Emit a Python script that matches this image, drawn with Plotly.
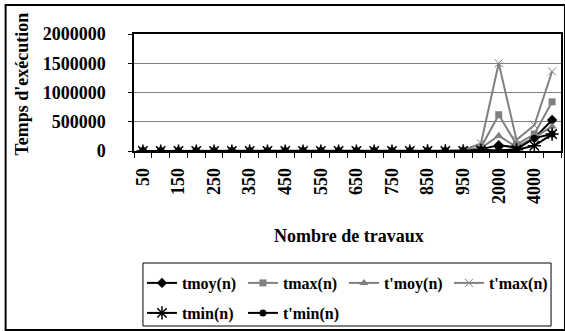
import plotly.graph_objects as go

# ---- data ----
n_labels = ["50", "100", "150", "200", "250", "300", "350", "400", "450", "500",
            "550", "600", "650", "700", "750", "800", "850", "900", "950", "1000",
            "2000", "3000", "4000", "5000"]
shown_labels = ["50", "", "150", "", "250", "", "350", "", "450", "",
                "550", "", "650", "", "750", "", "850", "", "950", "",
                "2000", "", "4000", ""]
tmoy = [5, 10, 20, 30, 50, 70, 100, 130, 170, 220, 280, 350, 430, 520, 620,
        750, 900, 1100, 5000, 30000, 100000, 60000, 220000, 530000]
tmax = [10, 20, 40, 60, 100, 140, 200, 260, 340, 440, 560, 700, 860, 1040, 1240,
        1500, 1800, 2200, 10000, 60000, 620000, 110000, 290000, 840000]
tpmoy = [6, 12, 25, 40, 60, 90, 120, 160, 210, 270, 340, 420, 520, 630, 750,
         900, 1100, 1300, 8000, 50000, 260000, 70000, 230000, 420000]
tpmax = [12, 25, 50, 80, 120, 170, 240, 320, 420, 540, 680, 850, 1050, 1270, 1520,
         1800, 2200, 2600, 15000, 130000, 1500000, 190000, 440000, 1360000]
tmin = [2, 5, 10, 15, 25, 35, 50, 65, 85, 110, 140, 175, 215, 260, 310,
        375, 450, 550, 2000, 10000, 5000, 20000, 90000, 290000]
tpmin = [3, 6, 12, 20, 30, 45, 60, 80, 105, 135, 170, 210, 260, 315, 375,
         450, 550, 650, 3000, 20000, 10000, 30000, 220000, 290000]

W, H = 565, 331
ML, MR, MT, MB = 134, 2, 34, 180
PW, PH = W - ML - MR, H - MT - MB


def px(x):
    return (x - ML) / PW


def py(y):
    return (H - MB - y) / PH


FONT = "Liberation Serif"
GRAY = "#808080"

series = [
    # name, values, color, symbol, size, marker line, legend, legendwidth
    ("tmoy(n)", tmoy, "black", "diamond", 8, 0, "legend", 56),
    ("tmax(n)", tmax, GRAY, "square", 7, 0, "legend", 56),
    ("t'moy(n)", tpmoy, GRAY, "triangle-up", 8, 0, "legend", 60),
    ("t'max(n)", tpmax, GRAY, "x-thin-open", 8, 1, "legend", 60),
    ("tmin(n)", tmin, "black", "asterisk-open", 11, 1.5, "legend2", 56),
    ("t'min(n)", tpmin, "black", "circle", 7, 0, "legend2", 56),
]

fig = go.Figure()
for name, vals, col, sym, size, mlw, leg, lw in series:
    fig.add_trace(go.Scatter(
        x=n_labels, y=vals, name=name, mode="lines+markers",
        line=dict(color=col, width=2),
        marker=dict(symbol=sym, size=size, color=col,
                    line=dict(color=col, width=mlw)),
        legend=leg, legendwidth=lw,
    ))

tick_font = dict(family=FONT, size=18, color="black", weight="bold")
title_font = dict(family=FONT, size=18, color="black", weight="bold")
leg_font = dict(family=FONT, size=16, color="black", weight="bold")

fig.update_layout(
    width=W, height=H,
    margin=dict(l=ML, r=MR, t=MT, b=MB),
    paper_bgcolor="white", plot_bgcolor="white",
    font=dict(family=FONT, size=16, color="black", weight="bold"),
    showlegend=True,
    legend=dict(orientation="h", x=px(142), y=py(266), xanchor="left",
                yanchor="top", bgcolor="rgba(0,0,0,0)", borderwidth=0,
                font=leg_font, traceorder="normal"),
    legend2=dict(orientation="h", x=px(142), y=py(296), xanchor="left",
                 yanchor="top", bgcolor="rgba(0,0,0,0)", borderwidth=0,
                 font=leg_font, traceorder="normal"),
    xaxis=dict(
        type="category", tickmode="array", tickvals=n_labels,
        ticktext=shown_labels, tickangle=-90, tickson="boundaries",
        ticks="outside", ticklen=5, tickcolor="black", tickwidth=1,
        showline=True, linecolor="black", linewidth=1.5, mirror=True,
        showgrid=False, tickfont=tick_font, ticklabelstandoff=8,
        range=[-0.5, len(n_labels) - 0.5], fixedrange=True,
    ),
    yaxis=dict(
        range=[0, 2000000], tickmode="linear", tick0=0, dtick=500000,
        tickformat="d",
        ticks="outside", ticklen=4, tickcolor="black",
        showline=True, linecolor="black", linewidth=1.5, mirror=True,
        showgrid=True, gridcolor=GRAY, gridwidth=1, zeroline=False,
        tickfont=tick_font, ticklabelstandoff=19, fixedrange=True,
    ),
    shapes=[
        dict(type="rect", xref="paper", yref="paper",
             x0=px(5), x1=px(567), y0=py(330), y1=py(5),
             line=dict(color="black", width=2), fillcolor="rgba(0,0,0,0)",
             layer="below"),
        dict(type="rect", xref="paper", yref="paper",
             x0=px(143), x1=px(553), y0=py(326), y1=py(263),
             line=dict(color="black", width=1), fillcolor="rgba(0,0,0,0)"),
    ],
    annotations=[
        dict(text="Temps d'exécution", xref="paper", yref="paper",
             x=px(21), y=py(84), textangle=-90, showarrow=False,
             xanchor="center", yanchor="middle", font=title_font),
        dict(text="Nombre de travaux", xref="paper", yref="paper",
             x=px(350), y=py(236), showarrow=False,
             xanchor="center", yanchor="middle", font=title_font),
    ],
)

fig.write_html("out.html",
               config={"displayModeBar": False},
               post_script="document.body.style.margin='0';")
